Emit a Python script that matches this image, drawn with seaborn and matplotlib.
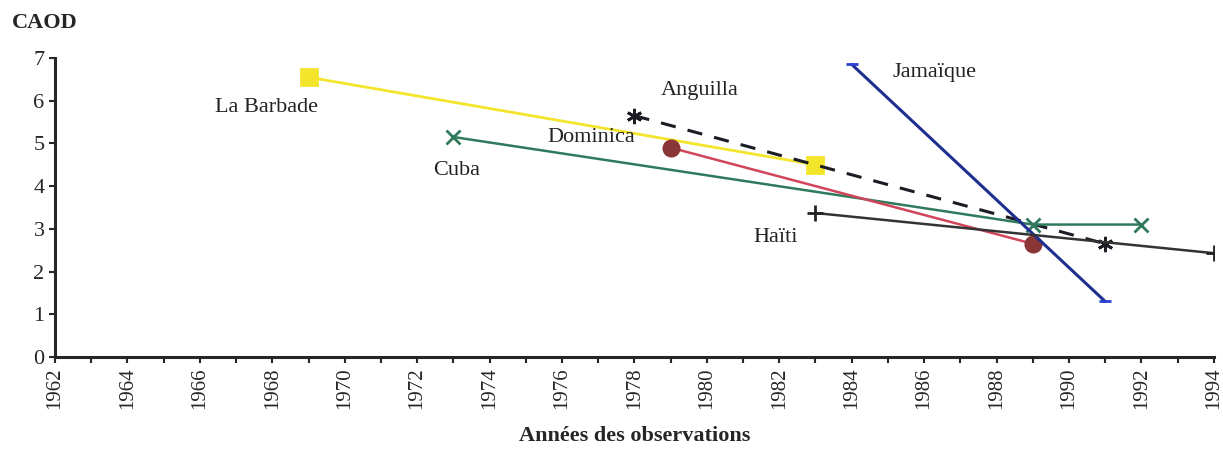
import matplotlib
matplotlib.use("Agg")
import matplotlib.pyplot as plt
from matplotlib.ticker import MultipleLocator
import pandas as pd
import seaborn as sns

# CAOD par pays et annee d'observation
barbade_years = [1969, 1983]
barbade_caod = [6.55, 4.5]
anguilla_years = [1978, 1991]
anguilla_caod = [5.65, 2.65]
cuba_years = [1973, 1989, 1992]
cuba_caod = [5.15, 3.1, 3.1]
dominica_years = [1979, 1989]
dominica_caod = [4.9, 2.65]
jamaique_years = [1984, 1991]
jamaique_caod = [6.85, 1.3]
haiti_years = [1983, 1994]
haiti_caod = [3.37, 2.43]

sns.set_style("ticks")
plt.rcParams['font.family'] = ['Liberation Serif', 'DejaVu Serif']

fig = plt.figure(figsize=(12.23, 4.53), dpi=100)
ax = fig.add_axes([0.045, 0.212, 0.9475, 0.66])

series = [
    ("La Barbade", barbade_years, barbade_caod, "#f2e52c", "-", "s", "#f2e52c", 12, 2),
    ("Anguilla", anguilla_years, anguilla_caod, "#1c1c24", (0, (5, 4)), (6, 2, 0), "#1c1c24", 11, 2.2),
    ("Cuba", cuba_years, cuba_caod, "#2f7a5c", "-", "x", "#2f7a5c", 10, 1.8),
    ("Dominica", dominica_years, dominica_caod, "#d0455a", "-", "o", "#8a3636", 11, 1.8),
    ("Jamaïque", jamaique_years, jamaique_caod, "#1e2f8f", "-", "_", "#2a40d0", 9, 2.2),
    ("Haïti", haiti_years, haiti_caod, "#333333", "-", "+", "#222222", 12, 1.8),
]

for name, xs, ys, col, ls, mk, mcol, ms, lw in series:
    df = pd.DataFrame({"annee": xs, "caod": ys})
    sns.lineplot(data=df, x="annee", y="caod", ax=ax, color=col, linestyle=ls,
                 linewidth=lw, marker=mk, markersize=ms, markerfacecolor=mcol,
                 markeredgecolor=mcol, markeredgewidth=2, legend=False)

ax.set_xlim(1962, 1994)
ax.set_ylim(0, 7)
ax.xaxis.set_major_locator(MultipleLocator(2))
ax.xaxis.set_minor_locator(MultipleLocator(1))
ax.yaxis.set_major_locator(MultipleLocator(1))
ax.tick_params(axis='x', which='both', rotation=90, labelsize=15, length=4, width=1.5)
ax.tick_params(axis='y', labelsize=16, length=4, width=1.5)
for s in ["top", "right"]:
    ax.spines[s].set_visible(False)
ax.spines["left"].set_linewidth(2.2)
ax.spines["bottom"].set_linewidth(2.2)

ax.set_xlabel("Années des observations", fontsize=16, fontweight="bold", labelpad=12)
ax.set_ylabel("")
fig.text(0.01, 0.95, "CAOD", fontsize=16, fontweight="bold", va="center")

lab = dict(fontsize=16, color="#222222", ha="center", va="center")
ax.text(1967.85, 5.85, "La Barbade", **lab)
ax.text(1979.8, 6.23, "Anguilla", **lab)
ax.text(1976.8, 5.15, "Dominica", **lab)
ax.text(1973.1, 4.36, "Cuba", **lab)
ax.text(1981.9, 2.8, "Haïti", **lab)
ax.text(1986.3, 6.67, "Jamaïque", **lab)

fig.savefig("out.png", dpi=100, facecolor="white")
